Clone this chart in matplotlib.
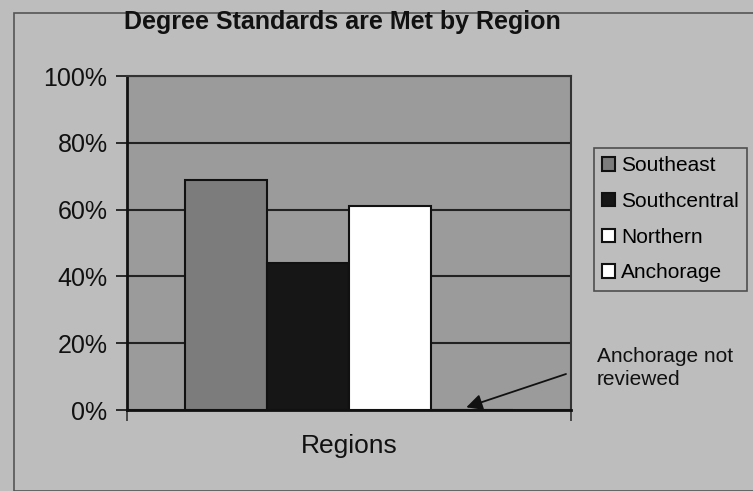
import matplotlib
matplotlib.use("Agg")
import matplotlib.pyplot as plt
from matplotlib.patches import Rectangle

title = "Degree Standards are Met by Region"
series = ["Southeast", "Southcentral", "Northern", "Anchorage"]
values = [69, 44, 61, 0]
colors = ["#7c7c7c", "#161616", "#ffffff", "#ffffff"]
yticks = [0, 20, 40, 60, 80, 100]
ytick_labels = ["0%", "20%", "40%", "60%", "80%", "100%"]
xlabel = "Regions"
note = "Anchorage not\nreviewed"

plt.rcParams['font.family'] = ['Liberation Sans', 'DejaVu Sans']
narrow = ['Liberation Sans', 'DejaVu Sans']

fig = plt.figure(figsize=(7.53, 4.91), dpi=100)
fig.patch.set_facecolor("#bdbdbd")
fig.patches.append(Rectangle((14/753, 0.0), 1.2, 1 - 13/491, transform=fig.transFigure,
                             fill=False, edgecolor="#555555", linewidth=1.2))

ax = fig.add_axes([127/753, 1 - 410/491, 444/753, 334/491])
ax.set_facecolor("#9b9b9b")

positions = list(range(len(series)))
bars = ax.bar(positions, values, width=1.0, color=colors, edgecolor="#111111",
              linewidth=1.5, zorder=3)
handles = []
for b, s in zip(bars, series):
    b.set_label(s)
    handles.append(b)

ax.set_xlim(-1.207, 4.207)
ax.set_ylim(0, 100)
ax.set_yticks(yticks)
ax.set_yticklabels(ytick_labels, fontsize=18, family=narrow)
ax.set_xticks([-1.207, 4.207])
ax.set_xticklabels(["", ""])
ax.tick_params(axis='y', direction='out', length=8, width=1.2, colors="#111111", pad=6)
ax.tick_params(axis='x', direction='out', length=8, width=1.2, colors="#333333")
for t in ax.get_yticklabels():
    t.set_color("#111111")
ax.yaxis.grid(True, color="#222222", linewidth=1.5, zorder=1)
ax.set_axisbelow(True)
for side in ["left", "bottom"]:
    ax.spines[side].set_linewidth(2)
    ax.spines[side].set_color("#111111")
for side in ["right", "top"]:
    ax.spines[side].set_linewidth(1.5)
    ax.spines[side].set_color("#333333")

ax.set_xlabel(xlabel, fontsize=19, labelpad=6, color="#111111", family=narrow)

fig.text(342/753, 1 - 22/491, title, ha="center", va="center",
         fontsize=18, fontweight="bold", color="#111111", family=narrow)

leg = fig.legend(handles=handles, labels=series, loc="upper left",
                 bbox_to_anchor=(594/753, 1 - 148/491),
                 prop={'family': narrow, 'size': 15},
                 frameon=True, fancybox=False, edgecolor="#333333",
                 facecolor="#bdbdbd", handlelength=0.6, handleheight=0.6,
                 handletextpad=0.3, labelspacing=0.8, borderpad=0.4,
                 borderaxespad=0.0)
leg.get_frame().set_linewidth(1.2)

ax.annotate("", xy=(2.93, 0.8), xycoords="data",
            xytext=(566/753, 1 - 374/491), textcoords="figure fraction",
            arrowprops=dict(arrowstyle="-|>", color="#111111", lw=1.3,
                            mutation_scale=24, shrinkA=0, shrinkB=0))
fig.text(597/753, 1 - 368/491, note, ha="left", va="center",
         fontsize=15, color="#111111", linespacing=1.25, family=narrow)

fig.savefig("out.png", dpi=100, facecolor=fig.get_facecolor())
